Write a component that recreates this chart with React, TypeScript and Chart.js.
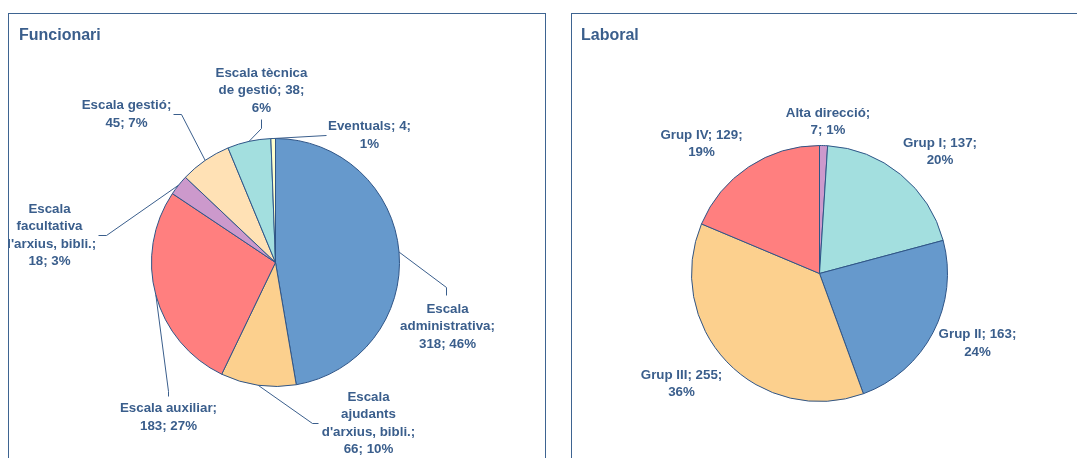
import React, { useEffect, useRef } from "react";
import { Chart, registerables } from "chart.js";

Chart.register(...registerables);

// ---------- data ----------
const funcCategories = [
  "Escala administrativa",
  "Escala ajudants d'arxius, bibli.",
  "Escala auxiliar",
  "Escala facultativa d'arxius, bibli.",
  "Escala gestió",
  "Escala tècnica de gestió",
  "Eventuals",
];
const funcValues = [318, 66, 183, 18, 45, 38, 4];
const funcPercents = [46, 10, 27, 3, 7, 6, 1];

const labCategories = ["Alta direcció", "Grup I", "Grup II", "Grup III", "Grup IV"];
const labValues = [7, 137, 163, 255, 129];
const labPercents = [1, 20, 24, 36, 19];

// ---------- styles / layout ----------
const TEXT = "#3A5E8C";
const BORDER = "#2F5587";
const C_BLUE = "#6699CC";
const C_PEACH = "#FCD08E";
const C_RED = "#FF7F7F";
const C_PURPLE = "#CC99CC";
const C_LPEACH = "#FFE1B5";
const C_CYAN = "#A3DFDF";
const C_YELLOW = "#FFFFCC";

const funcColors = [C_BLUE, C_PEACH, C_RED, C_PURPLE, C_LPEACH, C_CYAN, C_YELLOW];
const labColors = [C_PURPLE, C_CYAN, C_BLUE, C_PEACH, C_RED];

type LabelLayout = { dx: number; dy: number; w: number; leader?: number[][] };

const funcLayout: LabelLayout[] = [
  { dx: 172, dy: 64, w: 105, leader: [[171, 25], [171, 33]] },
  { dx: 93, dy: 161, w: 97, leader: [[37, 161], [43, 161]] },
  { dx: -107, dy: 154.7, w: 105, leader: [[-107, 129], [-107, 134]] },
  { dx: -226, dy: -27.2, w: 100, leader: [[-169, -27], [-177, -27]] },
  { dx: -149, dy: -148, w: 100, leader: [[-94, -148], [-102, -148]] },
  { dx: -14, dy: -172, w: 100, leader: [[-14, -134], [-14, -143]] },
  { dx: 94, dy: -127, w: 95, leader: [[51, -127]] },
];

const labLayout: LabelLayout[] = [
  { dx: 8.5, dy: -151.5, w: 92 },
  { dx: 120.5, dy: -121.5, w: 92 },
  { dx: 158, dy: 70, w: 92 },
  { dx: -138, dy: 110.5, w: 92 },
  { dx: -118, dy: -129.5, w: 92 },
];

const LABEL_FONT = 'bold 13.33px "Liberation Sans", Arial, sans-serif';
const TITLE_FONT = 'bold 16px "Liberation Sans", Arial, sans-serif';
const LINE_H = 17.5;

function wrap(ctx: CanvasRenderingContext2D, text: string, maxW: number): string[] {
  const words = text.split(" ");
  const lines: string[] = [];
  let cur = "";
  for (const w of words) {
    const test = cur ? cur + " " + w : w;
    if (cur && ctx.measureText(test).width > maxW) {
      lines.push(cur);
      cur = w;
    } else {
      cur = test;
    }
  }
  if (cur) lines.push(cur);
  return lines;
}

function makeLabelPlugin(
  title: string,
  titleX: number,
  cats: string[],
  vals: number[],
  pcts: number[],
  layout: LabelLayout[]
) {
  return {
    id: "customLabels",
    afterDraw(chart: any) {
      const ctx: CanvasRenderingContext2D = chart.ctx;
      const meta = chart.getDatasetMeta(0);
      ctx.save();
      // title
      ctx.font = TITLE_FONT;
      ctx.fillStyle = TEXT;
      ctx.textAlign = "left";
      ctx.textBaseline = "alphabetic";
      ctx.fillText(title, titleX, 26);

      meta.data.forEach((arc: any, i: number) => {
        const lay = layout[i];
        const cx = arc.x;
        const cy = arc.y;
        // leader
        if (lay.leader) {
          const mid = (arc.startAngle + arc.endAngle) / 2;
          const px = cx + Math.cos(mid) * arc.outerRadius;
          const py = cy + Math.sin(mid) * arc.outerRadius;
          ctx.beginPath();
          ctx.strokeStyle = TEXT;
          ctx.lineWidth = 1;
          ctx.moveTo(px, py);
          lay.leader.forEach((p) => ctx.lineTo(cx + p[0], cy + p[1]));
          ctx.stroke();
        }
        // text
        ctx.font = LABEL_FONT;
        ctx.fillStyle = TEXT;
        ctx.textAlign = "center";
        ctx.textBaseline = "middle";
        const text = `${cats[i]}; ${vals[i]}; ${pcts[i]}%`;
        const lines = wrap(ctx, text, lay.w);
        const lx = cx + lay.dx;
        const ly = cy + lay.dy;
        const y0 = ly - ((lines.length - 1) * LINE_H) / 2;
        lines.forEach((ln, k) => ctx.fillText(ln, lx, y0 + k * LINE_H));
      });
      ctx.restore();
    },
  };
}

function PieCanvas(props: {
  width: number;
  height: number;
  cats: string[];
  vals: number[];
  pcts: number[];
  colors: string[];
  layout: LabelLayout[];
  padding: { left: number; right: number; top: number; bottom: number };
  title: string;
  titleX: number;
}) {
  const ref = useRef<HTMLCanvasElement | null>(null);
  useEffect(() => {
    if (!ref.current) return;
    const chart = new Chart(ref.current, {
      type: "pie",
      data: {
        labels: props.cats,
        datasets: [
          {
            data: props.vals,
            backgroundColor: props.colors,
            borderColor: BORDER,
            borderWidth: 1,
          },
        ],
      },
      options: {
        responsive: false,
        maintainAspectRatio: false,
        animation: false,
        events: [],
        layout: { padding: props.padding },
        plugins: {
          legend: { display: false },
          tooltip: { enabled: false },
          title: { display: false },
        },
      },
      plugins: [
        makeLabelPlugin(props.title, props.titleX, props.cats, props.vals, props.pcts, props.layout),
      ],
    } as any);
    return () => chart.destroy();
  }, []);
  return (
    <canvas
      ref={ref}
      width={props.width}
      height={props.height}
      style={{ position: "absolute", left: 0, top: 0, width: props.width, height: props.height }}
    />
  );
}

export default function App() {
  const panelBorder = "1px solid #3E6491";
  return (
    <div
      style={{
        position: "fixed",
        left: 0,
        top: 0,
        width: 1077,
        height: 458,
        overflow: "hidden",
        background: "#ffffff",
      }}
    >
      <div
        style={{
          position: "absolute",
          left: 8,
          top: 13,
          width: 538,
          height: 470,
          border: panelBorder,
          boxSizing: "border-box",
          overflow: "hidden",
          background: "#fff",
        }}
      >
        <PieCanvas
          width={536}
          height={444}
          cats={funcCategories}
          vals={funcValues}
          pcts={funcPercents}
          colors={funcColors}
          layout={funcLayout}
          padding={{ left: 142, right: 145, top: 124, bottom: 71 }}
          title="Funcionari"
          titleX={10}
        />
      </div>
      <div
        style={{
          position: "absolute",
          left: 571,
          top: 13,
          width: 520,
          height: 470,
          border: panelBorder,
          boxSizing: "border-box",
          overflow: "hidden",
          background: "#fff",
        }}
      >
        <PieCanvas
          width={505}
          height={444}
          cats={labCategories}
          vals={labValues}
          pcts={labPercents}
          colors={labColors}
          layout={labLayout}
          padding={{ left: 119, right: 129, top: 131, bottom: 56 }}
          title="Laboral"
          titleX={9}
        />
      </div>
    </div>
  );
}
